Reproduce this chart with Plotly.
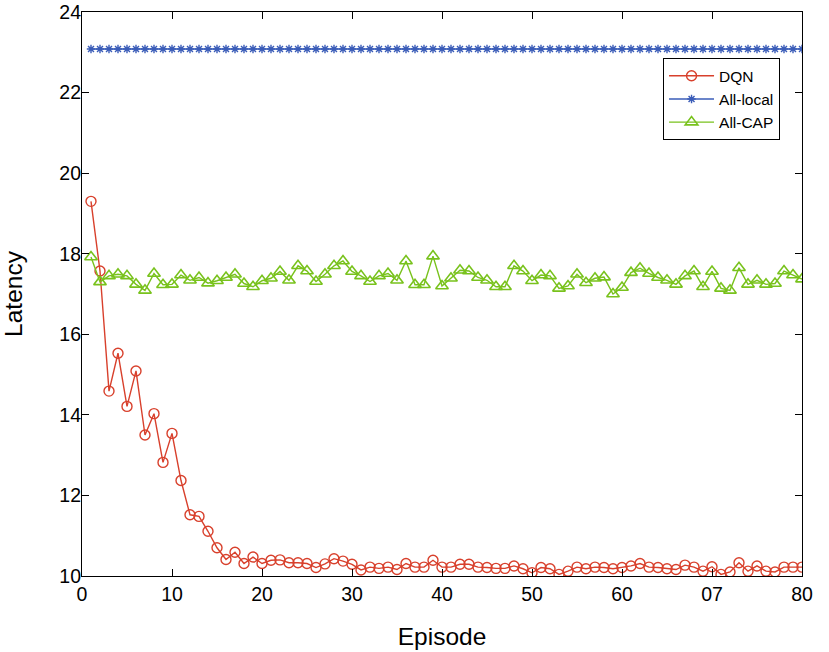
import plotly.graph_objects as go

episodes = list(range(1, 81))

dqn = [19.30, 17.57, 14.59, 15.53, 14.21, 15.09, 13.50, 14.03, 12.82, 13.54,
       12.37, 11.52, 11.48, 11.11, 10.70, 10.41, 10.59, 10.31, 10.47, 10.31,
       10.39, 10.40, 10.33, 10.33, 10.31, 10.21, 10.30, 10.43, 10.37, 10.29,
       10.15, 10.22, 10.19, 10.22, 10.16, 10.31, 10.22, 10.22, 10.39, 10.22,
       10.22, 10.29, 10.29, 10.22, 10.21, 10.19, 10.19, 10.25, 10.18, 10.08,
       10.21, 10.18, 10.04, 10.12, 10.22, 10.18, 10.22, 10.21, 10.18, 10.21,
       10.25, 10.31, 10.22, 10.21, 10.18, 10.16, 10.27, 10.22, 10.12, 10.23,
       10.04, 10.10, 10.33, 10.12, 10.25, 10.12, 10.10, 10.22, 10.22, 10.22]

all_local = [23.08] * 80

all_cap = [17.92, 17.30, 17.45, 17.49, 17.45, 17.24, 17.09, 17.51, 17.23, 17.24,
           17.47, 17.34, 17.41, 17.27, 17.33, 17.41, 17.49, 17.26, 17.18, 17.33,
           17.39, 17.56, 17.34, 17.70, 17.57, 17.31, 17.49, 17.70, 17.82, 17.56,
           17.45, 17.31, 17.45, 17.51, 17.34, 17.82, 17.23, 17.23, 17.94, 17.20,
           17.39, 17.59, 17.57, 17.41, 17.34, 17.18, 17.18, 17.70, 17.57, 17.33,
           17.47, 17.45, 17.14, 17.20, 17.49, 17.28, 17.39, 17.42, 17.00, 17.16,
           17.53, 17.64, 17.51, 17.41, 17.34, 17.24, 17.45, 17.57, 17.18, 17.56,
           17.14, 17.09, 17.65, 17.24, 17.34, 17.24, 17.26, 17.57, 17.47, 17.37]

x_tickvals = [0, 10, 20, 30, 40, 50, 60, 70, 80]
x_ticktext = ["0", "10", "20", "30", "40", "50", "60", "07", "80"]
y_tickvals = [10, 12, 14, 16, 18, 20, 22, 24]

RED = "#d8402c"
BLUE = "#3a5cb8"
GREEN = "#78c21c"
FONT = "Liberation Sans, Arial, sans-serif"

fig = go.Figure()
fig.add_trace(go.Scatter(
    x=episodes, y=dqn, name="DQN", mode="lines+markers",
    line=dict(color=RED, width=1.4),
    marker=dict(symbol="circle-open", size=10, color=RED, line=dict(width=1.4)),
))
fig.add_trace(go.Scatter(
    x=episodes, y=all_local, name="All-local", mode="lines+markers",
    line=dict(color=BLUE, width=1.4),
    marker=dict(symbol="asterisk-open", size=7, color=BLUE, line=dict(width=1.4, color=BLUE)),
))
fig.add_trace(go.Scatter(
    x=episodes, y=all_cap, name="All-CAP", mode="lines+markers",
    line=dict(color=GREEN, width=1.4),
    marker=dict(symbol="triangle-up-open", size=11, color=GREEN, line=dict(width=1.6)),
))

axis_common = dict(
    showline=True, linecolor="black", linewidth=1.2, mirror="ticks",
    ticks="inside", ticklen=7, tickwidth=1, tickcolor="black",
    showgrid=False, zeroline=False, automargin=False,
    ticklabeloverflow="allow",
    tickfont=dict(family=FONT, size=19.5, color="black"),
)

fig.update_layout(
    width=829, height=652,
    margin=dict(l=82, r=27, t=12, b=76),
    paper_bgcolor="white", plot_bgcolor="white",
    font=dict(family=FONT, color="black"),
    xaxis=dict(range=[0, 80], tickvals=x_tickvals, ticktext=x_ticktext,
               title=dict(text="Episode", font=dict(size=24.5), standoff=24),
               **axis_common),
    yaxis=dict(range=[10, 24], tickvals=y_tickvals, ticklabelstandoff=-4,
               title=dict(text="Latency", font=dict(size=24.5), standoff=33),
               **axis_common),
    legend=dict(x=0.807, y=0.918, xanchor="left", yanchor="top",
                bgcolor="white", bordercolor="black", borderwidth=1,
                font=dict(family=FONT, size=15.5), tracegroupgap=0,
                itemwidth=45),
    showlegend=True,
)

fig.write_html("out.html", config={"displayModeBar": False},
               post_script="document.body.style.margin='0px';")
